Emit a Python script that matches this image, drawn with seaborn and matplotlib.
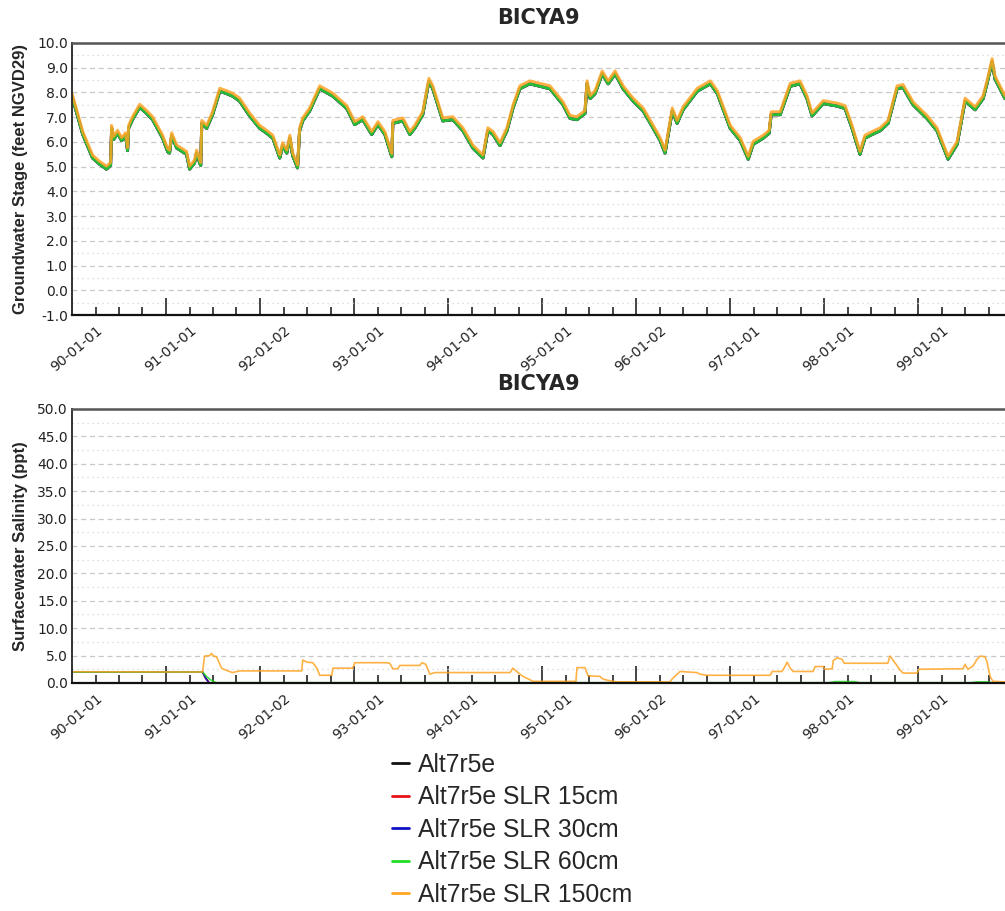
import pandas as pd
import numpy as np
import matplotlib
matplotlib.use("Agg")
import matplotlib.pyplot as plt
import matplotlib.dates as mdates
from matplotlib.ticker import MultipleLocator, FormatStrFormatter
from matplotlib.lines import Line2D
import seaborn as sns

# scenarios, drawn in this order (150cm ends up on top)
scenarios = ["Alt7r5e", "Alt7r5e SLR 15cm", "Alt7r5e SLR 30cm",
             "Alt7r5e SLR 60cm", "Alt7r5e SLR 150cm"]
line_colors = ["#111111", "#e8101a", "#1010c8", "#22dd22", "#ffa424"]

# groundwater stage (middle of the bundle), feet NGVD29
stage_dates = [
    "1989-10-01", "1989-11-12", "1989-12-20", "1990-01-16", "1990-02-12", "1990-02-28",
    "1990-03-04", "1990-03-12", "1990-03-27", "1990-04-12", "1990-04-27", "1990-05-05",
    "1990-05-09", "1990-05-24", "1990-06-21", "1990-07-18", "1990-08-10", "1990-09-18",
    "1990-10-08", "1990-10-15", "1990-10-23", "1990-11-12", "1990-12-20", "1991-01-01",
    "1991-01-20", "1991-01-28", "1991-02-09", "1991-02-13", "1991-02-17", "1991-03-08",
    "1991-03-31", "1991-04-28", "1991-05-25", "1991-06-17", "1991-07-14", "1991-08-22",
    "1991-09-30", "1991-10-27", "1991-11-20", "1991-12-17", "1991-12-28", "1992-01-13",
    "1992-01-25", "1992-02-05", "1992-02-24", "1992-03-03", "1992-03-15", "1992-04-11",
    "1992-05-20", "1992-07-10", "1992-09-02", "1992-10-03", "1992-11-03", "1992-12-08",
    "1993-01-01", "1993-01-28", "1993-02-24", "1993-02-28", "1993-04-08", "1993-05-05",
    "1993-05-24", "1993-06-24", "1993-07-18", "1993-08-02", "1993-09-10", "1993-10-19",
    "1993-11-27", "1994-01-05", "1994-02-13", "1994-03-04", "1994-03-24", "1994-04-20",
    "1994-05-17", "1994-06-09", "1994-07-06", "1994-08-14", "1994-09-22", "1994-10-31",
    "1994-12-21", "1995-01-17", "1995-02-13", "1995-03-16", "1995-03-24", "1995-04-05",
    "1995-04-24", "1995-05-22", "1995-06-14", "1995-07-11", "1995-08-11", "1995-09-19",
    "1995-10-28", "1995-12-06", "1996-01-02", "1996-01-21", "1996-02-18", "1996-03-08",
    "1996-03-31", "1996-05-25", "1996-07-15", "1996-08-11", "1996-09-30", "1996-11-08",
    "1996-12-09", "1996-12-28", "1997-02-05", "1997-02-28", "1997-03-08", "1997-04-12",
    "1997-05-21", "1997-06-28", "1997-07-25", "1997-08-14", "1997-09-26", "1997-11-19",
    "1997-12-20", "1998-01-16", "1998-02-16", "1998-03-07", "1998-04-04", "1998-05-05",
    "1998-06-05", "1998-07-10", "1998-08-02", "1998-09-10", "1998-11-03", "1998-12-12",
    "1999-01-24", "1999-02-28", "1999-03-31", "1999-05-09", "1999-06-09", "1999-06-24",
    "1999-07-14", "1999-07-25", "1999-09-02",
]
stage_values = [
    7.9, 6.35, 5.4, 5.15, 4.95, 5.1,
    6.6, 6.15, 6.4, 6.1, 6.3, 5.7,
    6.6, 6.95, 7.45, 7.2, 6.95, 6.2,
    5.65, 5.6, 6.3, 5.8, 5.55, 4.95,
    5.2, 5.6, 5.2, 5.1, 6.8, 6.6,
    7.15, 8.1, 8.0, 7.9, 7.7, 7.1,
    6.6, 6.4, 6.2, 5.4, 5.9, 5.6,
    6.2, 5.5, 5.0, 6.5, 6.9, 7.3,
    8.2, 7.9, 7.4, 6.75, 6.95, 6.35,
    6.75, 6.35, 5.45, 6.8, 6.9, 6.35,
    6.6, 7.15, 8.5, 8.2, 6.9, 6.95,
    6.5, 5.8, 5.4, 6.5, 6.35, 5.9,
    6.5, 7.4, 8.2, 8.4, 8.3, 8.2,
    7.55, 7.0, 6.95, 7.2, 8.4, 7.8,
    8.0, 8.8, 8.4, 8.8, 8.2, 7.7,
    7.3, 6.6, 6.1, 5.6, 7.3, 6.8,
    7.35, 8.1, 8.4, 8.0, 6.6, 6.1,
    5.35, 5.95, 6.2, 6.4, 7.15, 7.15,
    8.3, 8.4, 7.8, 7.1, 7.6, 7.5,
    7.4, 6.6, 5.55, 6.2, 6.35, 6.5,
    6.8, 8.2, 8.25, 7.55, 7.0, 6.5,
    5.35, 5.95, 7.7, 7.35, 7.8, 8.4,
    9.3, 8.6, 7.8,
]
# how far each scenario sits from the middle of the bundle
stage_shift = [-0.05, -0.05, -0.05, -0.05, 0.07]

# surfacewater salinity, ppt
sal_low_dates = ["1989-10-01", "1991-02-20", "1991-03-04", "1991-03-18", "1999-09-02"]
sal_low_values = [2.0, 2.0, 0.9, 0.0, 0.0]   # Alt7r5e, 15cm, 30cm

sal_60_dates = ["1989-10-01", "1991-02-20", "1991-03-08", "1991-03-24", "1991-04-14",
                "1997-10-20", "1997-11-10", "1998-01-25", "1998-02-15", "1999-04-25",
                "1999-05-15", "1999-06-25", "1999-07-10", "1999-09-02"]
sal_60_values = [2.0, 2.0, 1.15, 0.55, 0.05, 0.05, 0.25, 0.25, 0.05, 0.05,
                 0.2, 0.2, 0.05, 0.05]

sal_150_dates = [
    "1989-10-01", "1991-02-20", "1991-02-28", "1991-03-20", "1991-03-27", "1991-04-04",
    "1991-04-15", "1991-05-05", "1991-05-24", "1991-06-16", "1991-07-14", "1992-03-11",
    "1992-03-15", "1992-03-31", "1992-04-23", "1992-05-09", "1992-05-20", "1992-07-06",
    "1992-07-10", "1992-09-25", "1992-10-03", "1993-02-04", "1993-02-16", "1993-02-28",
    "1993-03-19", "1993-03-27", "1993-06-13", "1993-06-21", "1993-07-06", "1993-07-22",
    "1993-08-10", "1994-05-29", "1994-06-09", "1994-06-29", "1994-07-18", "1994-08-14",
    "1994-08-26", "1995-02-09", "1995-02-13", "1995-03-16", "1995-03-28", "1995-05-13",
    "1995-05-25", "1995-06-21", "1995-07-18", "1996-02-09", "1996-02-17", "1996-03-19",
    "1996-05-24", "1996-06-05", "1996-07-02", "1997-03-04", "1997-03-12", "1997-04-19",
    "1997-04-27", "1997-05-09", "1997-05-21", "1997-06-01", "1997-08-18", "1997-08-26",
    "1997-09-26", "1997-10-04", "1997-10-31", "1997-11-04", "1997-11-19", "1997-12-09",
    "1997-12-16", "1998-06-04", "1998-06-12", "1998-06-24", "1998-07-21", "1998-08-02",
    "1998-09-25", "1998-10-03", "1999-03-23", "1999-03-31", "1999-04-11", "1999-05-01",
    "1999-05-16", "1999-05-28", "1999-06-16", "1999-06-24", "1999-07-06", "1999-07-17",
    "1999-09-02",
]
sal_150_values = [
    2.05, 2.0, 4.9, 5.0, 5.4, 4.9,
    4.8, 2.7, 2.3, 1.9, 2.2, 2.2,
    4.2, 3.8, 3.7, 2.7, 1.4, 1.4,
    2.7, 2.7, 3.7, 3.7, 3.6, 2.6,
    2.6, 3.2, 3.2, 3.7, 3.4, 1.6,
    1.9, 1.9, 2.7, 1.9, 1.2, 0.6,
    0.3, 0.3, 2.8, 2.8, 1.3, 1.2,
    0.7, 0.4, 0.2, 0.2, 0.7, 2.1,
    1.9, 1.6, 1.4, 1.4, 2.1, 2.1,
    2.7, 3.8, 2.7, 2.1, 2.1, 3.0,
    3.0, 2.5, 2.6, 4.1, 4.6, 4.3,
    3.6, 3.6, 4.9, 4.2, 2.4, 1.8,
    1.8, 2.5, 2.6, 3.4, 2.5, 3.1,
    4.3, 4.9, 4.8, 3.9, 1.2, 0.3,
    0.2,
]

# axis annotations
label_dates = ["1990-01-01", "1991-01-01", "1992-01-02", "1993-01-01", "1994-01-01",
               "1995-01-01", "1996-01-02", "1997-01-01", "1998-01-01", "1999-01-01"]
x_start, x_end = "1989-10-01", "1999-09-02"
station = "BICYA9"

sns.set_theme(style="white")
plt.rcParams["font.family"] = ["DejaVu Sans"]

# long-form tables for seaborn
stage_frames = []
for name, shift in zip(scenarios, stage_shift):
    stage_frames.append(pd.DataFrame({
        "date": pd.to_datetime(stage_dates),
        "value": np.array(stage_values) + shift,
        "scenario": name,
    }))
stage_df = pd.concat(stage_frames, ignore_index=True)

sal_sources = {
    scenarios[0]: (sal_low_dates, sal_low_values),
    scenarios[1]: (sal_low_dates, sal_low_values),
    scenarios[2]: (sal_low_dates, sal_low_values),
    scenarios[3]: (sal_60_dates, sal_60_values),
    scenarios[4]: (sal_150_dates, sal_150_values),
}
sal_df = pd.concat([
    pd.DataFrame({"date": pd.to_datetime(d), "value": v, "scenario": name})
    for name, (d, v) in sal_sources.items()
], ignore_index=True)

palette = dict(zip(scenarios, line_colors))

fig = plt.figure(figsize=(10.05, 9.11), dpi=100)
ax1 = fig.add_axes([0.0716, 0.6542, 0.9284, 0.2986])
ax2 = fig.add_axes([0.0716, 0.2503, 0.9284, 0.3008])

sns.lineplot(data=stage_df, x="date", y="value", hue="scenario", hue_order=scenarios,
             palette=palette, estimator=None, linewidth=2.1, alpha=0.85,
             legend=False, ax=ax1)
sns.lineplot(data=sal_df, x="date", y="value", hue="scenario", hue_order=scenarios,
             palette=palette, estimator=None, linewidth=1.2, alpha=0.85,
             legend=False, ax=ax2)


def style_axis(ax, ylabel, ymin, ymax, major, minor):
    ax.set_xlim(pd.Timestamp(x_start), pd.Timestamp(x_end))
    ax.set_ylim(ymin, ymax)
    ax.set_xlabel("")
    ax.set_ylabel(ylabel, fontsize=12, fontweight="bold", family=["Liberation Sans"])
    ax.yaxis.set_label_coords(-0.047, 0.5)
    ax.set_title(station, fontsize=15, fontweight="bold", pad=13.5)

    ax.yaxis.set_major_locator(MultipleLocator(major))
    ax.yaxis.set_minor_locator(MultipleLocator(minor))
    ax.yaxis.set_major_formatter(FormatStrFormatter("%.1f"))
    ax.tick_params(axis="y", which="both", length=0, pad=3, labelsize=10, labelcolor="#222222")
    ax.grid(axis="y", which="major", color="#c8c8c8", linestyle=(0, (4, 3)), linewidth=0.9)
    ax.grid(axis="y", which="minor", color="#d4d4d4", linestyle=(0, (1, 3)), linewidth=0.9)
    ax.grid(axis="x", visible=False)

    # yearly long ticks at water-year start, quarterly short ticks
    ax.xaxis.set_major_locator(mdates.MonthLocator(bymonth=[10], bymonthday=1))
    ax.xaxis.set_minor_locator(mdates.MonthLocator(bymonth=[1, 4, 7, 10], bymonthday=1))
    ax.xaxis.set_major_formatter(plt.NullFormatter())
    ax.tick_params(axis="x", which="major", direction="in", length=12, width=1.1,
                   color="#111111", bottom=True)
    ax.tick_params(axis="x", which="minor", direction="in", length=6, width=1.1,
                   color="#111111", bottom=True)

    # date labels on a secondary axis so they sit on January ticks
    sec = ax.secondary_xaxis("bottom")
    sec.set_xticks(mdates.date2num(pd.to_datetime(label_dates)))
    sec.xaxis.set_major_formatter(mdates.DateFormatter("%y-%m-%d"))
    sec.tick_params(axis="x", length=0, pad=6, labelsize=10, labelcolor="#222222")
    for lab in sec.get_xticklabels():
        lab.set_rotation(40)
        lab.set_ha("right")
        lab.set_va("top")
        lab.set_rotation_mode("anchor")
    sec.spines["bottom"].set_visible(False)

    ax.spines["right"].set_visible(False)
    ax.spines["top"].set_color("#555555")
    ax.spines["top"].set_linewidth(1.8)
    ax.spines["left"].set_color("#333333")
    ax.spines["left"].set_linewidth(1.4)
    ax.spines["bottom"].set_color("#111111")
    ax.spines["bottom"].set_linewidth(1.6)


style_axis(ax1, "Groundwater Stage (feet NGVD29)", -1, 10, 1.0, 0.5)
style_axis(ax2, "Surfacewater Salinity (ppt)", 0, 50, 5.0, 2.5)

handles = [Line2D([0], [0], color=c, linewidth=2) for c in line_colors]
fig.legend(handles, scenarios, loc="upper left", bbox_to_anchor=(0.390, 0.1735),
           frameon=False, borderpad=0, borderaxespad=0, handlelength=0.7,
           handletextpad=0.35, labelspacing=0.34,
           prop={"family": "Liberation Sans", "size": 17.8})

fig.savefig("out.png", dpi=100)
